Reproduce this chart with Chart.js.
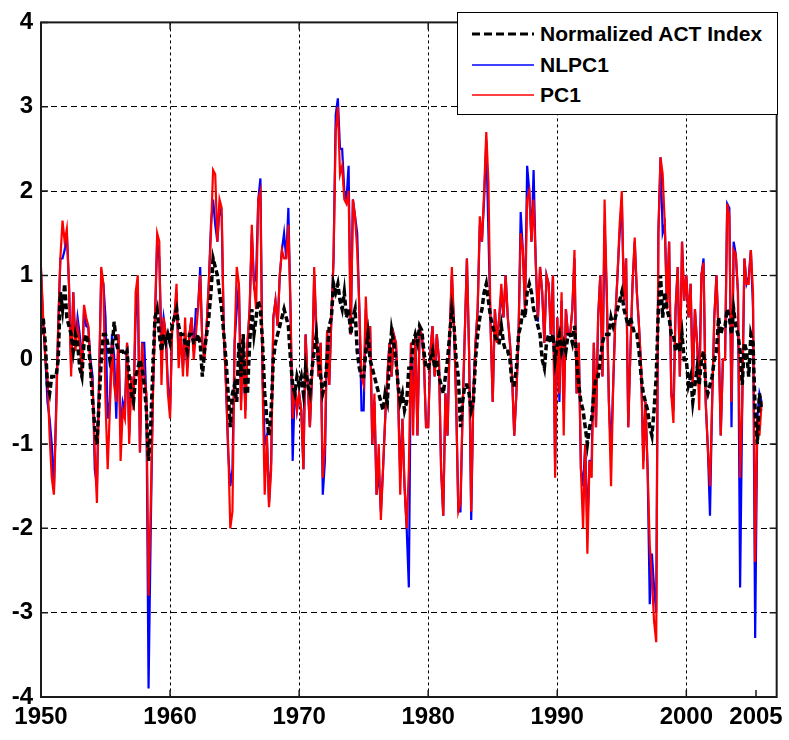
<!DOCTYPE html>
<html>
<head>
<meta charset="utf-8">
<script src="https://cdn.jsdelivr.net/npm/chart.js@4.4.1/dist/chart.umd.min.js"></script>
<style>
  html, body { margin: 0; padding: 0; background: #fff; }
  #wrap { position: relative; width: 789px; height: 740px; }
  #legend {
    position: absolute; left: 457px; top: 12px; width: 319px; height: 101px;
    border: 1.5px solid #000; background: #fff;
    font-family: "Liberation Sans", Arial, sans-serif; font-weight: bold; font-size: 21px; color: #000;
  }
  .row { position: absolute; left: 14px; height: 24px; display: flex; align-items: center; white-space: nowrap; }
  .row svg { margin-right: 6px; }
</style>
</head>
<body>
<div id="wrap">
  <canvas id="c" width="789" height="740"></canvas>
  <div id="legend"></div>
</div>
<script>
// ---- data (6 samples per year, starting Jan 1950) ----
const startYear = 1950;
const samplesPerYear = 6;
const seriesNames = ['Normalized ACT Index', 'NLPC1', 'PC1'];

const actIndex = [
  0.3, 0.5, 0.2, -0.3, -0.4, -0.2,
  -0.2, -0.2, 0.0, 0.8, 0.6, 0.9,
  0.5, 0.4, 0.3, 0.1, 0.3, 0.2,
  -0.1, -0.2, 0.2, 0.3, 0.2, -0.1,
  -0.5, -0.8, -1.0, -0.5, 0.0, 0.3,
  0.3, 0.2, 0.0, 0.1, 0.45, 0.2,
  0.1, 0.1, 0.1, 0.05, 0.1, -0.2,
  -0.4, -0.5, -0.2, -0.1, 0.0, -0.1,
  -0.3, -0.6, -1.2, -0.8, -0.1, 0.5,
  0.6, 0.3, 0.1, 0.3, 0.2, 0.3,
  0.2, 0.4, 0.5, 0.6, 0.4, 0.3,
  0.3, 0.2, 0.1, 0.3, 0.3, 0.2,
  0.2, 0.3, 0.2, -0.2, 0.1, 0.3,
  0.5, 0.8, 1.2, 1.1, 1.0, 0.8,
  0.6, 0.3, 0.0, -0.4, -0.8, -0.4,
  -0.3, -0.5, 0.2, -0.2, 0.3, -0.4,
  -0.4, 0.2, 0.6, 0.3, 0.5, 0.7,
  0.6, 0.2, -0.4, -0.7, -0.9, -0.6,
  0.0, 0.2, 0.3, 0.4, 0.5, 0.6,
  0.5, 0.4, 0.0, -0.3, -0.4, -0.2,
  -0.3, -0.2, -0.4, -0.1, -0.3, -0.4,
  -0.1, 0.1, 0.3, 0.0, -0.2, -0.4,
  -0.3, 0.0, 0.4, 0.5, 0.9, 0.8,
  0.9, 0.7, 0.6, 0.8, 0.5, 0.6,
  0.3, 0.5, 0.6, 0.1, -0.1, -0.2,
  -0.2, 0.1, 0.3, 0.0, -0.1, -0.2,
  -0.3, -0.4, -0.5, -0.6, -0.4, -0.5,
  0.0, 0.35, 0.2, 0.0, -0.3, -0.5,
  -0.4, -0.6, -0.5, -0.1, -0.1, 0.2,
  0.3, 0.2, 0.4, 0.35, 0.1, -0.1,
  -0.1, 0.0, 0.1, -0.1, 0.0, -0.2,
  -0.3, -0.4, -0.2, 0.0, 0.3, 0.6,
  0.4, 0.0, -0.2, -0.8, -0.5, -0.3,
  -0.3, -0.4, -0.6, -0.5, 0.0, 0.3,
  0.5, 0.6, 0.8, 0.9, 0.7, 0.5,
  0.4, 0.3, 0.2, 0.2, 0.4, 0.2,
  0.1, 0.1, 0.0, -0.3, -0.3, -0.1,
  0.3, 0.4, 0.6, 0.5, 0.8, 0.9,
  0.8, 0.6, 0.5, 0.4, 0.3, 0.0,
  -0.1, 0.2, 0.3, 0.2, 0.3, 0.0,
  0.2, 0.3, 0.1, 0.2, 0.1, 0.3,
  0.3, 0.2, 0.4, 0.0, -0.3, -0.5,
  -0.6, -0.8, -1.0, -0.8, -0.7, -0.4,
  -0.2, -0.2, 0.0, 0.2, 0.3, 0.3,
  0.3, 0.5, 0.4, 0.5, 0.6, 0.7,
  0.8, 0.6, 0.5, 0.4, 0.5, 0.4,
  0.3, 0.3, 0.1, -0.2, -0.4, -0.5,
  -0.6, -0.8, -0.9, -0.6, -0.2, 0.6,
  1.0, 0.5, 0.8, 0.6, 0.5, 0.3,
  0.3, 0.1, 0.2, 0.1, 0.3, 0.0,
  0.0, -0.3, -0.2, -0.5, -0.3, -0.1,
  -0.3, 0.0, 0.1, -0.3, -0.4, -0.3,
  -0.2, 0.0, 0.1, 0.5, 0.3, 0.4,
  0.4, 0.6, 0.5, 0.3, 0.6, 0.4,
  0.3, 0.1, -0.3, 0.2, 0.1, -0.2,
  0.3, 0.2, -0.6, -1.0, -0.4, -0.6
];

const nlpc1 = [
  1.05, 0.45, 0.05, -0.5, -0.7, -1.0,
  -1.55, -0.6, 0.4, 1.2, 1.2, 1.3,
  1.5, 0.9, -0.1, 0.8, 0.2, 0.5,
  0.3, -0.1, 0.6, 0.4, 0.38, 0.0,
  -0.2, -1.3, -1.5, -0.2, 1.0, 0.9,
  0.5, -0.7, -0.5, 0.3, 0.05, -0.7,
  0.3, -0.9, -0.5, -0.6, 0.2, -0.9,
  -0.2, -0.5, 0.5, 0.9, -1.1, 0.2,
  0.2, -0.5, -3.9, -2.05, -0.4, 0.5,
  1.4, 1.2, 0.2, 0.5, 0.3, -0.3,
  -0.6, 0.4, 0.5, 0.8, 0.0, 0.3,
  -0.1, 0.3, -0.1, 0.3, 0.5, 0.1,
  0.6, 0.6, 1.1, 0.2, 0.1, 0.4,
  0.9, 1.6, 1.9, 1.6, 1.4, 1.8,
  1.7, 0.3, -0.3, -1.1, -1.5, -1.3,
  0.2, 0.6, 0.9, -0.5, 0.3, -0.6,
  0.2, 0.6, 1.5, 0.9, 1.0, 1.9,
  2.15, -0.2, -1.0, -0.9, -1.7, -1.2,
  0.5, 0.7, 0.4, 1.0, 1.3, 1.5,
  1.2, 1.8, 0.6, -1.2, -0.3, -0.6,
  -0.4, -0.6, -1.3, 0.3, -0.3, -0.8,
  -0.2, 1.0, 0.35, -0.2, 0.2, -1.6,
  -1.2, 0.35, -0.3, 0.5, 1.2, 2.9,
  3.1, 2.5, 2.5, 2.0, 1.9, 2.3,
  0.3, 1.9, 1.7, 1.5, 0.6, -0.6,
  -0.6, 0.6, 0.1, 0.4, -1.0, -0.5,
  -1.6, -1.3, -1.8, -1.3, -0.7, -0.2,
  0.2, -0.2, 0.3, 0.2, -0.4, -1.4,
  -0.7, -1.5, -2.0, -2.7, 0.2, -0.6,
  0.3, -0.9, 0.35, 0.3, 0.0, -0.8,
  -0.8, 0.1, 0.4, -0.2, 0.3, 0.0,
  -1.3, -1.85, -0.4, -0.9, 0.3, 1.0,
  0.4, -0.5, -1.8, -1.8, -0.6, 0.3,
  1.2, 0.1, -1.9, -0.4, 0.2, 0.6,
  1.6, 1.4, 1.9, 2.6, 1.5, 0.4,
  -0.5, 0.6, 0.2, 0.5, 0.8, 0.5,
  1.0, 0.5, 0.2, -0.2, -0.9, -0.4,
  0.3, 1.75, 1.3, 0.6, 2.3, 2.0,
  1.4, 2.25, 1.15, 0.45, 1.1, 0.8,
  0.2, 1.0, 0.9, 0.3, 1.0, -1.3,
  0.5, -0.5, 0.7, -0.6, 0.6, 0.3,
  0.3, 0.6, 1.2, -0.4, 0.2, -1.3,
  -1.5, -1.0, -2.0, -1.2, -1.2, 0.2,
  -0.8, 0.5, 1.0, -0.2, 1.6, 0.8,
  -0.5, -1.1, -0.3, 0.5, 1.0, 1.5,
  1.9, 0.7, 1.2, -0.8, 0.1, 0.9,
  1.4, 0.8, 0.4, -0.1, -1.2, -0.5,
  -1.3, -2.9, -2.3, -2.7, -3.0, 1.5,
  2.4, 1.5, 1.6, 0.6, 1.4, -0.4,
  -0.6, 0.6, 1.1, -0.2, 1.4, 0.7,
  1.0, 0.5, 0.9, -0.3, 0.6, 0.2,
  -0.3, 1.0, 1.2, -0.5, -1.05, -1.85,
  -0.5, 0.5, 1.0, 0.3, -0.9, 0.0,
  0.0, 1.85, 1.8, -0.8, 1.4, 1.25,
  0.8, -2.7, -0.5, 1.2, 0.9, 0.98,
  1.3, 0.6, -3.3, -0.7, -0.4, -0.5
];

const pc1 = [
  1.1, 0.5, 0.0, -0.2, -0.9, -1.4,
  -1.6, -0.7, 0.4, 1.2, 1.65, 1.4,
  1.55, 0.9, -0.2, 0.8, 0.1, 0.4,
  0.2, -0.2, 0.65, 0.5, 0.4, -0.1,
  -0.3, -1.1, -1.7, -0.3, 1.1, 0.9,
  -0.5, -1.3, -0.6, 0.2, -0.3, -0.5,
  0.3, -1.2, -0.6, -0.7, 0.2, -1.0,
  -0.2, -0.6, 0.8, 1.0, -1.1, 0.2,
  -0.2, -0.4, -2.8, -1.75, -0.5, 0.5,
  1.5, 1.4, -0.3, 0.5, 0.3, -0.4,
  -0.7, 0.4, 0.5, 0.9, -0.1, 0.3,
  -0.2, 0.5, -0.2, 0.3, 0.5, 0.0,
  0.3, 0.6, 1.0, 0.2, 0.0, 0.4,
  0.9, 1.5, 2.25, 2.2, 1.4, 1.9,
  1.8, 0.3, -0.3, -1.0, -2.0, -1.8,
  0.2, 1.1, 0.9, -0.6, 0.3, -0.7,
  0.2, 0.6, 1.6, 0.9, 0.6, 1.9,
  2.0, -0.3, -1.6, -0.9, -1.75, -1.3,
  0.5, 0.7, 0.4, 1.0, 1.3, 1.2,
  1.2, 1.6, 0.6, -0.7, -0.3, -0.6,
  -0.4, -0.6, -1.3, 0.3, -0.3, -0.8,
  -0.2, 1.1, 0.4, -0.2, 0.2, -1.4,
  -1.0, 0.35, -0.3, 0.5, 1.2, 2.7,
  3.0, 2.2, 2.3, 1.9, 1.85, 2.0,
  0.3, 1.9, 1.7, 1.3, 0.6, -0.2,
  -0.3, 0.75, 0.1, 0.4, -1.0, -0.4,
  -1.6, -1.0, -1.9, -1.3, -0.7, -0.2,
  0.2, -0.2, 0.3, 0.2, -0.4, -1.6,
  -0.7, -1.5, -2.0, -1.3, 0.2, -0.9,
  0.3, -0.9, 0.35, 0.3, 0.0, -0.8,
  -0.8, 0.1, 0.4, -0.2, 0.3, 0.0,
  -1.3, -1.85, -0.4, -0.9, 0.3, 1.1,
  0.4, -0.5, -1.8, -1.7, -0.6, 0.3,
  1.2, 0.1, -1.8, -0.4, 0.2, 0.6,
  1.7, 1.4, 2.0, 2.7, 2.1, 0.4,
  -0.5, 0.6, 0.2, 0.5, 0.9, 0.5,
  1.0, 0.5, 0.2, -0.2, -0.9, -0.4,
  0.3, 1.5, 1.3, 0.6, 1.9, 2.0,
  1.4, 1.9, 1.15, 0.5, 1.1, 0.8,
  0.2, 1.0, 0.9, 0.3, 1.0, -1.4,
  0.5, -0.4, 0.8, -0.9, 0.6, 0.3,
  0.3, 0.6, 1.3, -0.4, 0.2, -1.3,
  -2.0, -1.0, -2.3, -1.2, -1.4, 0.2,
  -0.8, 0.5, 1.0, -0.2, 1.9, 0.8,
  -0.5, -1.5, -0.3, 0.5, 1.0, 1.6,
  2.0, 0.7, 1.2, -0.8, 0.1, 0.9,
  1.45, 0.8, 0.4, -0.1, -1.3, -0.5,
  -1.3, -2.2, -2.6, -3.1, -3.35, 1.5,
  2.4, 2.2, 1.6, 0.6, 1.4, -0.4,
  -0.75, 0.6, 1.1, -0.2, 1.4, 0.7,
  1.0, 0.5, 0.9, -0.3, 0.6, 0.2,
  -0.6, 1.0, 1.15, -0.5, -1.05, -1.5,
  -0.5, 0.5, 1.0, 0.3, -0.9, 0.0,
  0.0, 1.85, 1.7, -0.5, 1.3, 1.25,
  0.8, -1.4, -0.5, 1.2, 0.9, 0.9,
  1.3, 0.8, -2.4, -0.7, -0.9, -0.5
];

const xTickValues = [1950, 1960, 1970, 1980, 1990, 2000, 2005.4];
const xTickLabels = ['1950', '1960', '1970', '1980', '1990', '2000', '2005'];
const yTickValues = [-4, -3, -2, -1, 0, 1, 2, 3, 4];
const yTickLabels = ['-4', '-3', '-2', '-1', '0', '1', '2', '3', '4'];

// ---- build ----
const times = actIndex.map((_, i) => startYear + i / samplesPerYear);
const toPoints = arr => arr.map((v, i) => ({ x: times[i], y: v }));
const FONT = '"Liberation Sans", Arial, sans-serif';

const boxPlugin = {
  id: 'box',
  afterDatasetsDraw(chart) {
    const { ctx, chartArea: a, scales } = chart;
    ctx.save();
    ctx.strokeStyle = '#1a1a1a';
    ctx.lineWidth = 1.5;
    ctx.setLineDash([]);
    ctx.beginPath();
    xTickValues.forEach(v => {
      const px = scales.x.getPixelForValue(v);
      ctx.moveTo(px, a.bottom); ctx.lineTo(px, a.bottom - 7);
      ctx.moveTo(px, a.top); ctx.lineTo(px, a.top + 7);
    });
    yTickValues.forEach(v => {
      const py = scales.y.getPixelForValue(v);
      ctx.moveTo(a.left, py); ctx.lineTo(a.left + 7, py);
      ctx.moveTo(a.right, py); ctx.lineTo(a.right - 7, py);
    });
    ctx.stroke();
    ctx.lineWidth = 2;
    ctx.strokeRect(a.left, a.top, a.right - a.left, a.bottom - a.top);
    ctx.restore();
  }
};

new Chart(document.getElementById('c'), {
  type: 'line',
  data: {
    datasets: [
      { label: seriesNames[0], data: toPoints(actIndex), borderColor: '#000000', borderWidth: 3.5,
        borderDash: [6, 3], pointRadius: 0, tension: 0, order: 0 },
      { label: seriesNames[2], data: toPoints(pc1), borderColor: '#ff0000', borderWidth: 2.2,
        pointRadius: 0, tension: 0, order: 1 },
      { label: seriesNames[1], data: toPoints(nlpc1), borderColor: '#0000ff', borderWidth: 2.2,
        pointRadius: 0, tension: 0, order: 2 }
    ]
  },
  options: {
    responsive: false,
    devicePixelRatio: 1,
    animation: false,
    events: [],
    layout: { padding: { top: 14, right: 10, left: 0, bottom: 0 } },
    plugins: { legend: { display: false }, tooltip: { enabled: false } },
    scales: {
      x: {
        type: 'linear', min: 1950, max: 2007,
        afterBuildTicks: s => { s.ticks = xTickValues.map(v => ({ value: v })); },
        afterFit: s => { s.height = 43; },
        ticks: {
          autoSkip: false, maxRotation: 0, padding: 6, color: '#000',
          font: { family: FONT, size: 24, weight: 'bold' },
          callback: (v, i) => xTickLabels[i]
        },
        grid: {
          drawTicks: false, lineWidth: 1,
          color: c => (c.tick && (c.tick.value === 1950 || c.tick.value === 2005.4)) ? 'rgba(0,0,0,0)' : '#000'
        },
        border: { display: false, dash: [3, 3] }
      },
      y: {
        min: -4, max: 4,
        afterBuildTicks: s => { s.ticks = yTickValues.map(v => ({ value: v })); },
        afterFit: s => { s.width = 41; },
        ticks: {
          padding: 8, color: '#000',
          font: { family: FONT, size: 24, weight: 'bold' },
          callback: (v, i) => yTickLabels[i]
        },
        grid: {
          drawTicks: false, lineWidth: 1,
          color: c => (c.tick && Math.abs(c.tick.value) === 4) ? 'rgba(0,0,0,0)' : '#000'
        },
        border: { display: false, dash: [6, 4] }
      }
    }
  },
  plugins: [boxPlugin]
});

// ---- legend (HTML, real text) ----
const legendStyles = [
  { color: '#000', width: 3, dash: '8,4' },
  { color: '#0000ff', width: 1.5, dash: '' },
  { color: '#ff0000', width: 1.5, dash: '' }
];
const legendRowsTop = [9, 40, 70];
const legendEl = document.getElementById('legend');
seriesNames.forEach((name, i) => {
  const st = legendStyles[i];
  const row = document.createElement('div');
  row.className = 'row';
  row.style.top = legendRowsTop[i] + 'px';
  row.innerHTML = '<svg width="62" height="6"><line x1="0" y1="3" x2="62" y2="3" stroke="' + st.color +
    '" stroke-width="' + st.width + '"' + (st.dash ? ' stroke-dasharray="' + st.dash + '"' : '') + '/></svg>';
  const span = document.createElement('span');
  span.textContent = name;
  row.appendChild(span);
  legendEl.appendChild(row);
});
</script>
</body>
</html>
